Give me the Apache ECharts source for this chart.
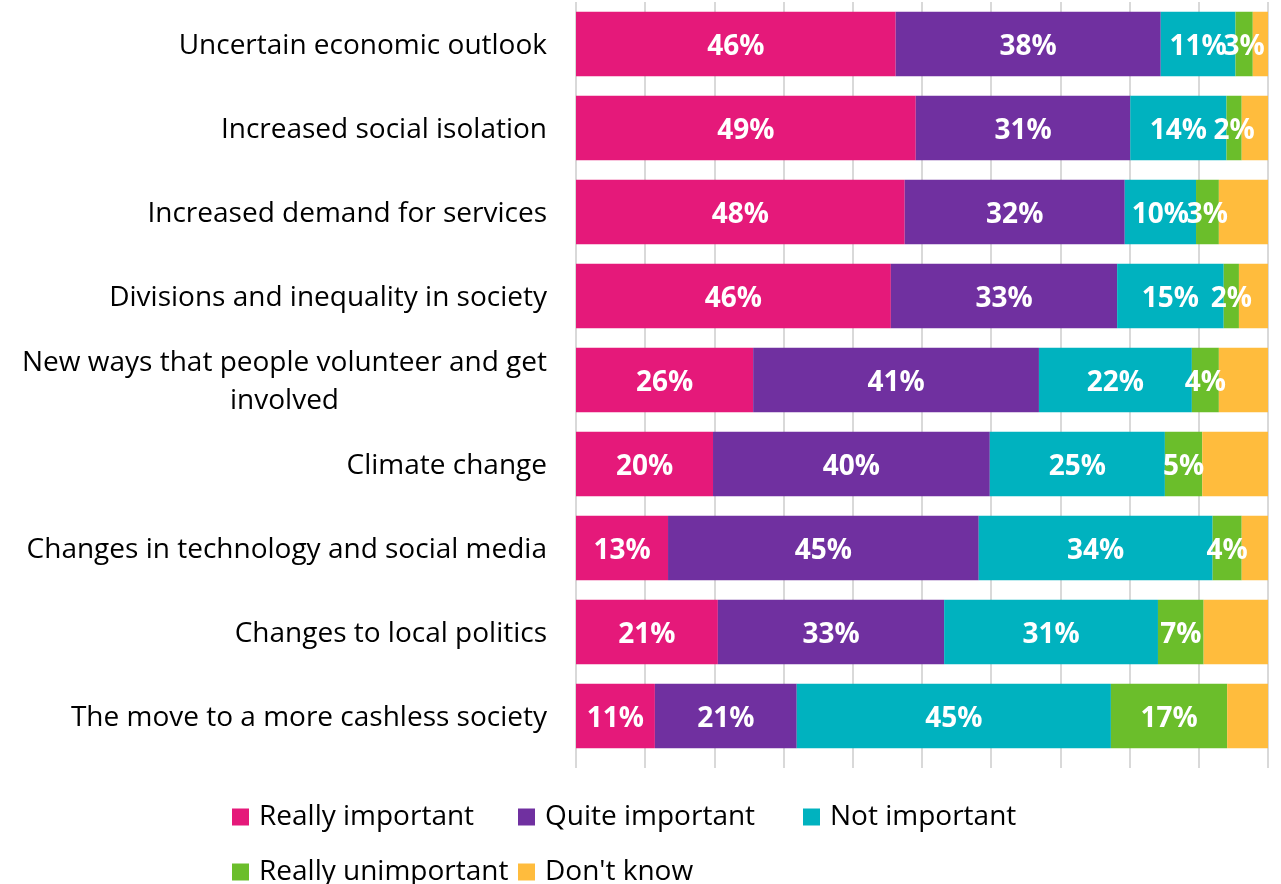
<!DOCTYPE html>
<html><head><meta charset="utf-8">
<script src="https://cdn.jsdelivr.net/npm/echarts@6/dist/echarts.min.js"></script>
<style>html,body{margin:0;padding:0;background:#fff}#c{width:1281px;height:884px}</style>
</head><body><div id="c"></div>
<script>
const categories = [
  "Uncertain economic outlook",
  "Increased social isolation",
  "Increased demand for services",
  "Divisions and inequality in society",
  "New ways that people volunteer and get\ninvolved",
  "Climate change",
  "Changes in technology and social media",
  "Changes to local politics",
  "The move to a more cashless society"
];
const seriesNames = ["Really important", "Quite important", "Not important", "Really unimportant", "Don't know"];
const reallyImportant   = [46.2, 49.1, 47.5, 45.5, 25.6, 19.8, 13.3, 20.5, 11.4];
const quiteImportant    = [38.3, 31.0, 31.8, 32.7, 41.3, 40.0, 44.9, 32.7, 20.5];
const notImportant      = [10.8, 13.9, 10.3, 15.4, 22.1, 25.3, 33.8, 30.9, 45.4];
const reallyUnimportant = [2.5, 2.2, 3.3, 2.2, 3.9, 5.4, 4.2, 6.6, 16.8];
const dontKnow          = [2.2, 3.8, 7.1, 4.2, 7.1, 9.5, 3.8, 9.3, 5.9];
const colors = ["#E5197A", "#7030A0", "#00B2BF", "#6BBE2B", "#FFBC3D"];

const FONT = "'Open Sans', 'Noto Sans', sans-serif";
const catSize = 28;
// measure widest line of the multi-line label so its lines can be centred
const ctx = document.createElement('canvas').getContext('2d');
ctx.font = catSize + "px 'Open Sans'";
function lineWidth(s){ return Math.ceil(ctx.measureText(s).width); }

const chart = echarts.init(document.getElementById('c'));
const allData = [reallyImportant, quiteImportant, notImportant, reallyUnimportant, dontKnow];
const series = seriesNames.map((n, i) => ({
  name: n, type: 'bar', stack: 'total', barWidth: '77%',
  data: allData[i],
  itemStyle: { color: colors[i] },
  label: {
    show: i < 4, position: 'inside', color: '#fff', fontWeight: 'bold',
    fontSize: 28, fontFamily: FONT, offset: [0, 3],
    formatter: p => Math.round(p.value) + '%'
  },
  emphasis: { disabled: true }
}));

const legendPos = [[232, 803], [518, 803], [803, 803], [232, 858], [518, 858]];
const legends = seriesNames.map((n, i) => ({
  data: [n], left: legendPos[i][0], top: legendPos[i][1], padding: 0,
  itemWidth: 17, itemHeight: 17, icon: 'rect',
  textStyle: { fontSize: 28, color: '#000', fontFamily: FONT, padding: [0, 0, 0, 5] }
}));

chart.setOption({
  animation: false,
  color: colors,
  textStyle: { fontFamily: FONT },
  legend: legends,
  grid: { left: 576, right: 13, top: 2, bottom: 126, containLabel: false },
  xAxis: {
    type: 'value', min: 0, max: 100, interval: 10,
    axisLabel: { show: false },
    axisLine: { show: false },
    axisTick: { show: true, length: 10, lineStyle: { color: '#D9D9D9', width: 2 } },
    splitLine: { show: true, lineStyle: { color: '#D9D9D9', width: 2 } }
  },
  yAxis: {
    type: 'category', inverse: true, data: categories,
    axisLine: { show: false }, axisTick: { show: false },
    axisLabel: {
      margin: 29, fontSize: catSize, color: '#000', fontFamily: FONT, lineHeight: 38,
      padding: [4, 0, 0, 0],
      formatter: v => {
        if (v.indexOf('\n') < 0) return v;
        const lines = v.split('\n');
        return lines.map(l => '{c|' + l + '}').join('\n');
      },
      rich: { c: { width: lineWidth("New ways that people volunteer and get"), align: 'center',
                   fontSize: catSize, fontFamily: FONT, color: '#000', lineHeight: 38 } }
    }
  },
  series: series
});
</script></body></html>
